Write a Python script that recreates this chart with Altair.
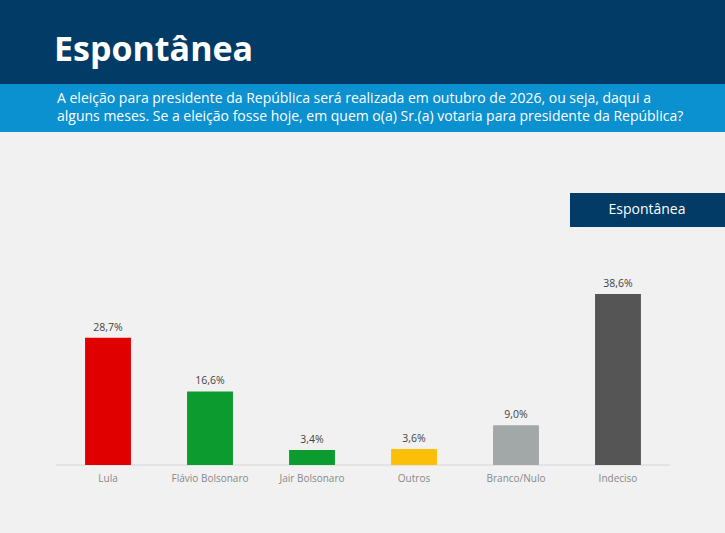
import altair as alt
import pandas as pd

# Survey results (spontaneous vote intention, %)
categories = ["Lula", "Flávio Bolsonaro", "Jair Bolsonaro", "Outros", "Branco/Nulo", "Indeciso"]
values = [28.7, 16.6, 3.4, 3.6, 9.0, 38.6]
colors = ["#e10000", "#0c9b2f", "#0c9b2f", "#fcbf07", "#a2a7a7", "#555555"]
value_labels = ["28,7%", "16,6%", "3,4%", "3,6%", "9,0%", "38,6%"]

title_text = "Espontânea"
subtitle_line1 = "A eleição para presidente da República será realizada em outubro de 2026, ou seja, daqui a"
subtitle_line2 = "alguns meses. Se a eleição fosse hoje, em quem o(a) Sr.(a) votaria para presidente da República?"
badge_text = "Espontânea"

W, H = 725, 533
FONT = "Open Sans"
NAVY = "#013b66"
BLUE = "#0b90d0"

df = pd.DataFrame({"cat": categories, "val": values, "color": colors, "lbl": value_labels})

x_enc = alt.X("cat:N", sort=categories, axis=None,
              scale=alt.Scale(range=[56, 670], paddingInner=0.55, paddingOuter=0.285))
y_scale = alt.Scale(domain=[0, 100], range=[465, 22])

one = pd.DataFrame({"k": [0]})

header = alt.Chart(one).mark_rect(color=NAVY).encode(
    x=alt.value(0), x2=alt.value(W), y=alt.value(0), y2=alt.value(84))
band = alt.Chart(one).mark_rect(color=BLUE).encode(
    x=alt.value(0), x2=alt.value(W), y=alt.value(84), y2=alt.value(132))
title = alt.Chart(one).mark_text(
    text=title_text, font=FONT, fontSize=34, fontWeight="bold", color="white",
    align="left", baseline="alphabetic").encode(x=alt.value(54), y=alt.value(61))
sub1 = alt.Chart(one).mark_text(
    text=subtitle_line1, font=FONT, fontSize=14, color="white", align="left",
    baseline="alphabetic").encode(x=alt.value(57), y=alt.value(103))
sub2 = alt.Chart(one).mark_text(
    text=subtitle_line2, font=FONT, fontSize=14, color="white", align="left",
    baseline="alphabetic").encode(x=alt.value(57), y=alt.value(121))

badge = alt.Chart(one).mark_rect(color=NAVY).encode(
    x=alt.value(570), x2=alt.value(W), y=alt.value(193), y2=alt.value(227))
badge_t = alt.Chart(one).mark_text(
    text=badge_text, font=FONT, fontSize=14, color="white", align="center", baseline="middle").encode(
    x=alt.value(647), y=alt.value(210))

base = alt.Chart(df)
baseline_rule = alt.Chart(pd.DataFrame({"z": [0]})).mark_rule(color="#d6d6d6", strokeWidth=1).encode(
    x=alt.value(56), x2=alt.value(670), y=alt.Y("z:Q", scale=y_scale, axis=None))
bars = base.mark_bar().encode(
    x=x_enc,
    y=alt.Y("val:Q", scale=y_scale, axis=None),
    y2=alt.datum(0),
    color=alt.Color("color:N", scale=None),
)
vlabels = base.mark_text(font=FONT, fontSize=10.5, color="#444444", baseline="alphabetic", dy=-7).encode(
    x=x_enc, y=alt.Y("val:Q", scale=y_scale, axis=None), text="lbl:N")
clabels = base.mark_text(font=FONT, fontSize=10, color="#888888", baseline="middle").encode(
    x=x_enc, y=alt.value(479), text="cat:N")

chart = alt.layer(
    header, band, title, sub1, sub2, badge, badge_t, baseline_rule, bars, vlabels, clabels
).properties(
    width=W, height=H, padding=0, autosize=alt.AutoSizeParams(type="none"),
    background="#f1f1f1",
).configure_view(stroke=None).configure_axis(disable=True)

chart.save("out.html", embed_options={"renderer": "svg", "actions": False})
